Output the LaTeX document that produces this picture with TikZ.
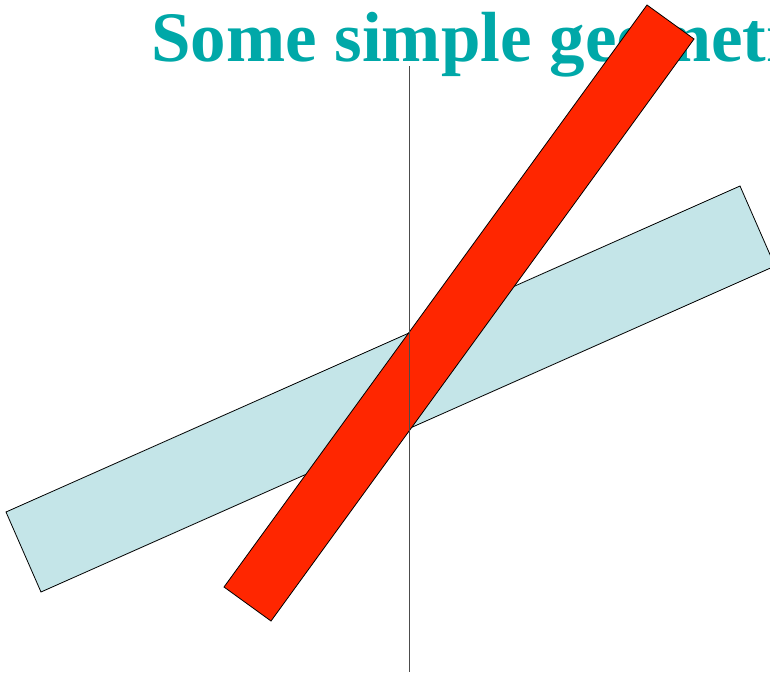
\documentclass[tikz,border=0pt]{standalone}
\usepackage{fontspec}
\setmainfont{Liberation Serif}
\definecolor{titleteal}{RGB}{0,168,168}
\definecolor{paleblue}{RGB}{196,229,232}
\definecolor{barred}{RGB}{255,38,0}

\begin{document}
\begin{tikzpicture}[x=1pt,y=-1pt]
\useasboundingbox (0,0) rectangle (770,672);
\clip (0,0) rectangle (770,672);
\node[anchor=base west, inner sep=0pt, text=titleteal, font=\fontsize{71}{78}\selectfont\bfseries] (title) at (151,61) {Some simple geometry};
\filldraw[fill=paleblue, draw=black, line width=0.8pt] (6,512) -- (740,186) -- (775,266) -- (41,592) -- cycle;
\filldraw[fill=barred, draw=black, line width=0.8pt] (224,587) -- (647,5) -- (694,39) -- (271,621) -- cycle;
\draw[black!70, line width=1.2pt] (409.5,66) -- (409.5,672);
\end{tikzpicture}
\end{document}
